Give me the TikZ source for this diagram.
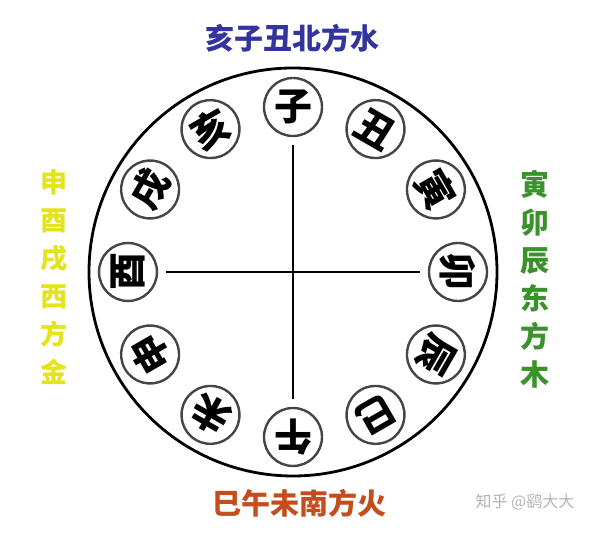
\documentclass[tikz,border=0pt]{standalone}
\usepackage{fontspec}
\newfontfamily\cjk{Noto Sans CJK SC}
\definecolor{cblue}{HTML}{34349E}
\definecolor{cyellow}{HTML}{E4E41C}
\definecolor{cgreen}{HTML}{3A922A}
\definecolor{cred}{HTML}{C24E1E}
\definecolor{cgray}{HTML}{454545}
\definecolor{cwm}{HTML}{B4B4B4}
\begin{document}
\begin{tikzpicture}[x=1pt,y=1pt,
  branch/.style={circle,draw=cgray,line width=2.4pt,minimum size=58pt,inner sep=0pt,
    font=\cjk\bfseries\fontsize{38}{38}\selectfont},
  axis/.style={line width=2pt,black,shorten <=8pt,shorten >=8pt},
  title/.style={font=\cjk\bfseries\fontsize{29}{29}\selectfont,inner sep=0pt},
  coltitle/.style={font=\cjk\bfseries\fontsize{27}{38}\selectfont,align=center,inner sep=0pt}]
\useasboundingbox (0,0) rectangle (600,537);
\fill[white] (0,0) rectangle (600,537);
\coordinate (C) at (293,265);
\draw[line width=2.8pt] (C) circle (204);
\foreach \ch/\a/\nm in {子/90/zi,丑/60/chou,寅/30/yin,卯/0/mao,辰/-30/chen,巳/-60/si,午/-90/wu,未/-120/wei,申/-150/shen,酉/180/you,戌/150/xu,亥/120/hai}{
  \pgfmathsetmacro{\rot}{\a-90}
  \path (C) ++(\a:165pt) node[branch,rotate=\rot] (\nm) {\ch};
}
\draw[axis] (zi.south) -- (wu.south);
\draw[axis] (you.south) -- (mao.south);
\node[title,text=cblue] (tn) at (292,499) {亥子丑北方水};
\node[title,text=cred] (ts) at (299,34) {巳午未南方火};
\node[coltitle,text=cyellow] (tw) at (54,260) {申\\酉\\戌\\西\\方\\金};
\node[coltitle,text=cgreen,font=\cjk\bfseries\fontsize{29}{38}\selectfont] (te) at (535,258) {寅\\卯\\辰\\东\\方\\木};
\node[font=\cjk\fontsize{16}{16}\selectfont,text=cwm,inner sep=0pt] (wm) at (525,35) {知乎 @鹞大大};
\end{tikzpicture}
\end{document}
